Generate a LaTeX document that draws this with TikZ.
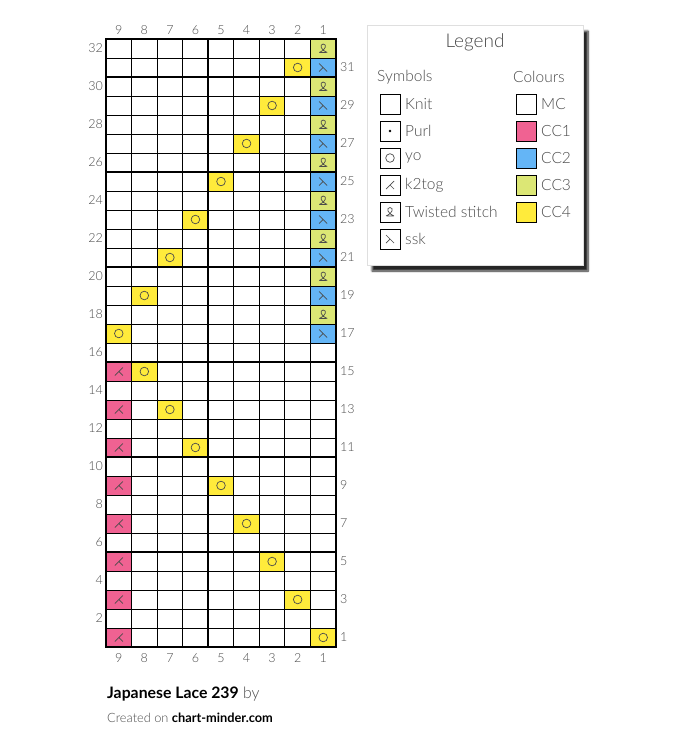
\documentclass[tikz,border=0pt]{standalone}
\usepackage{fontspec}
\setmainfont{Lato}[UprightFont=* Light, BoldFont=* Bold]
\usetikzlibrary{shadows.blur}
\definecolor{cpink}{HTML}{F06292}
\definecolor{cblue}{HTML}{64B5F6}
\definecolor{clime}{HTML}{DCE775}
\definecolor{cyellow}{HTML}{FFEB3B}
\definecolor{txtgray}{RGB}{75,75,75}

% stitch glyphs, centred on ({#1},{#2})
\newcommand{\yosym}[2]{\draw[sym] ({#1},{#2}) circle (4.3);}
\newcommand{\ktsym}[2]{\draw[sym, shift={({#1},{#2})}] (-4,4) -- (4,-4) (0,0) -- (4,4);}
\newcommand{\ssksym}[2]{\draw[sym, shift={({#1},{#2})}] (-4,-4) -- (4,4) (0,0) -- (-4,4);}
\newcommand{\tblsym}[2]{\draw[sym, shift={({#1},{#2})}] (-4,4) .. controls (2.5,2) and (4,-4.5) .. (0,-4.5) .. controls (-4,-4.5) and (-2.5,2) .. (4,4) (-3,4) -- (3,4);}
\newcommand{\purlsym}[2]{\fill[black] ({#1},{#2}) circle (1.3);}

\begin{document}
\begin{tikzpicture}[
    x = 1pt, y = -1pt,
    gridline/.style = {line width = 0.8pt, black},
    majorline/.style = {line width = 2pt, black},
    sym/.style = {line width = 0.7pt, txtgray},
    symbox/.style = {line width = 0.9pt, black},
    num/.style = {text = txtgray, font = \fontsize{12.5}{14}\selectfont, inner sep = 0pt},
    legtext/.style = {text = txtgray, font = \fontsize{15.5}{18}\selectfont, inner sep = 0pt, anchor = west},
]
\useasboundingbox (0,0) rectangle (675,750);

% colour cells
\foreach \r in {1,3,...,15} \fill[cpink] ({336-9*25.556},{647-\r*19}) rectangle ++(25.556,19);
\foreach \r in {17,19,...,31} \fill[cblue] ({336-25.556},{647-\r*19}) rectangle ++(25.556,19);
\foreach \r in {18,20,...,32} \fill[clime] ({336-25.556},{647-\r*19}) rectangle ++(25.556,19);
\foreach \c/\r in {1/1,2/3,3/5,4/7,5/9,6/11,7/13,8/15,9/17,8/19,7/21,6/23,5/25,4/27,3/29,2/31}
    \fill[cyellow] ({336-\c*25.556},{647-\r*19}) rectangle ++(25.556,19);

% symbols
\foreach \r in {1,3,...,15} \ktsym{336-8.5*25.556}{647-(\r-0.5)*19};
\foreach \r in {17,19,...,31} \ssksym{336-0.5*25.556}{647-(\r-0.5)*19};
\foreach \r in {18,20,...,32} \tblsym{336-0.5*25.556}{647-(\r-0.5)*19};
\foreach \c/\r in {1/1,2/3,3/5,4/7,5/9,6/11,7/13,8/15,9/17,8/19,7/21,6/23,5/25,4/27,3/29,2/31}
    \yosym{336-(\c-0.5)*25.556}{647-(\r-0.5)*19};

% grid
\foreach \i in {0,...,9} \draw[gridline] ({106+\i*25.556},39) -- ({106+\i*25.556},647);
\foreach \j in {0,...,32} \draw[gridline] (106,{39+\j*19}) -- (336,{39+\j*19});
\foreach \k in {1,...,6} \draw[majorline] (106,{647-5*\k*19}) -- (336,{647-5*\k*19});
\draw[majorline] ({336-5*25.556},39) -- ({336-5*25.556},647);
\draw[majorline] (106,39) rectangle (336,647);

% numbers
\foreach \c in {1,...,9} {
    \node[num] (top-\c) at ({336-(\c-0.5)*25.556},30) {\c};
    \node[num] (bot-\c) at ({336-(\c-0.5)*25.556},658) {\c};
}
\foreach \r in {2,4,...,32} \node[num, anchor = east] (left-\r) at (103,{647-(\r-0.5)*19}) {\r};
\foreach \r in {1,3,...,31} \node[num, anchor = west] (right-\r) at (340,{647-(\r-0.5)*19}) {\r};

% legend
\fill[white, draw = gray!25, blur shadow = {shadow xshift = 5pt, shadow yshift = -6pt, shadow blur steps = 8, shadow opacity = 85}] (367,25) rectangle (583,265);
\node[text = txtgray, font = \fontsize{19}{22}\selectfont] (legend-title) at (475,42) {Legend};
\node[legtext] (symbols-head) at (377,77) {Symbols};
\node[legtext] (colours-head) at (513,77) {Colours};
\foreach \lab [count = \k from 0] in {Knit,Purl,yo,k2tog,Twisted stitch,ssk} {
    \draw[symbox] (380,{94+\k*27}) rectangle ++(20,20);
    \node[legtext] (sym-\k) at (405,{104+\k*27}) {\lab};
}
\purlsym{390}{131}
\yosym{390}{158}
\ktsym{390}{185}
\tblsym{390}{212}
\ssksym{390}{239}
\foreach \col/\lab [count = \k from 0] in {white/MC,cpink/CC1,cblue/CC2,clime/CC3,cyellow/CC4} {
    \draw[symbox, fill = \col] (516,{94+\k*27}) rectangle ++(20,20);
    \node[legtext] (col-\k) at (541,{104+\k*27}) {\lab};
}

% footer
\node[anchor = west, inner sep = 0pt, font = \fontsize{15.8}{18}\selectfont] (chart-title) at (107,694) {\textbf{Japanese Lace 239} \textcolor{txtgray}{by}};
\node[anchor = west, inner sep = 0pt, font = \fontsize{12.8}{15}\selectfont] (credit) at (107,718) {\textcolor{txtgray}{Created on} \textbf{chart-minder.com}};
\end{tikzpicture}
\end{document}
